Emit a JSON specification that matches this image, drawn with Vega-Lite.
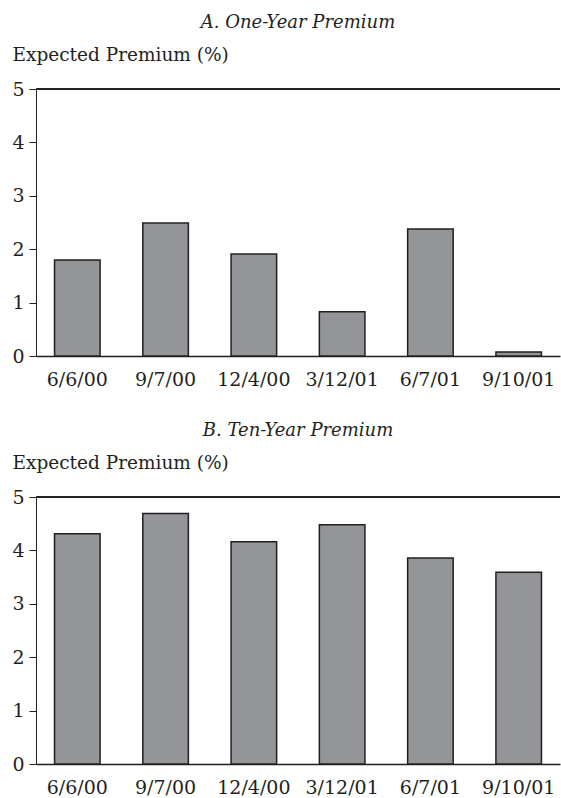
{
  "$schema": "https://vega.github.io/schema/vega-lite/v6.json",
  "padding": {"left": 11, "top": 14, "right": 0, "bottom": 0},
  "background": "white",
  "config": {
    "font": "DejaVu Serif",
    "view": {"stroke": null},
    "axis": {"labelFont": "DejaVu Serif", "labelFontSize": 19, "labelColor": "#231f20", "domainColor": "#231f20", "tickColor": "#231f20", "grid": false, "titleFont": "DejaVu Serif", "titleFontSize": 18.5, "titleFontWeight": "normal", "titleColor": "#231f20"},
    "title": {"font": "DejaVu Serif", "fontSize": 18, "fontStyle": "italic", "fontWeight": "normal", "color": "#231f20", "anchor": "middle", "frame": "group", "offset": 13},
    "concat": {"spacing": 33}
  },
  "datasets": {
    "one": [
      {"date": "6/6/00", "premium": 1.80},
      {"date": "9/7/00", "premium": 2.49},
      {"date": "12/4/00", "premium": 1.91},
      {"date": "3/12/01", "premium": 0.83},
      {"date": "6/7/01", "premium": 2.38},
      {"date": "9/10/01", "premium": 0.075}
    ],
    "ten": [
      {"date": "6/6/00", "premium": 4.31},
      {"date": "9/7/00", "premium": 4.69},
      {"date": "12/4/00", "premium": 4.16},
      {"date": "3/12/01", "premium": 4.48},
      {"date": "6/7/01", "premium": 3.86},
      {"date": "9/10/01", "premium": 3.59}
    ]
  },
  "vconcat": [
    {
      "title": {"text": "A. One-Year Premium"},
      "width": 524, "height": 267,
      "data": {"name": "one"},
      "layer": [
        {"mark": {"type": "bar", "fill": "#939598", "stroke": "#231f20", "strokeWidth": 1.5},
         "encoding": {
           "x": {"field": "date", "type": "nominal", "sort": null, "scale": {"paddingInner": 0.484, "paddingOuter": 0.21}, "axis": {"title": null, "labelAngle": 0, "ticks": false, "labelPadding": 14, "domainWidth": 1.5}},
           "y": {"field": "premium", "type": "quantitative", "scale": {"domain": [0, 5], "nice": false}, "axis": {"title": "Expected Premium (%)", "titleAngle": 0, "titleAlign": "left", "titleBaseline": "alphabetic", "titleX": -24, "titleY": -29, "values": [0, 1, 2, 3, 4, 5], "tickSize": 7, "labelPadding": 5, "domainWidth": 1}}
         }},
        {"mark": {"type": "rule", "stroke": "#231f20", "strokeWidth": 1}, "encoding": {"y": {"datum": 5}}}
      ]
    },
    {
      "title": {"text": "B. Ten-Year Premium"},
      "width": 524, "height": 267,
      "data": {"name": "ten"},
      "layer": [
        {"mark": {"type": "bar", "fill": "#939598", "stroke": "#231f20", "strokeWidth": 1.5},
         "encoding": {
           "x": {"field": "date", "type": "nominal", "sort": null, "scale": {"paddingInner": 0.484, "paddingOuter": 0.21}, "axis": {"title": null, "labelAngle": 0, "ticks": false, "labelPadding": 14, "domainWidth": 1.5}},
           "y": {"field": "premium", "type": "quantitative", "scale": {"domain": [0, 5], "nice": false}, "axis": {"title": "Expected Premium (%)", "titleAngle": 0, "titleAlign": "left", "titleBaseline": "alphabetic", "titleX": -24, "titleY": -29, "values": [0, 1, 2, 3, 4, 5], "tickSize": 7, "labelPadding": 5, "domainWidth": 1}}
         }},
        {"mark": {"type": "rule", "stroke": "#231f20", "strokeWidth": 1}, "encoding": {"y": {"datum": 5}}}
      ]
    }
  ]
}
